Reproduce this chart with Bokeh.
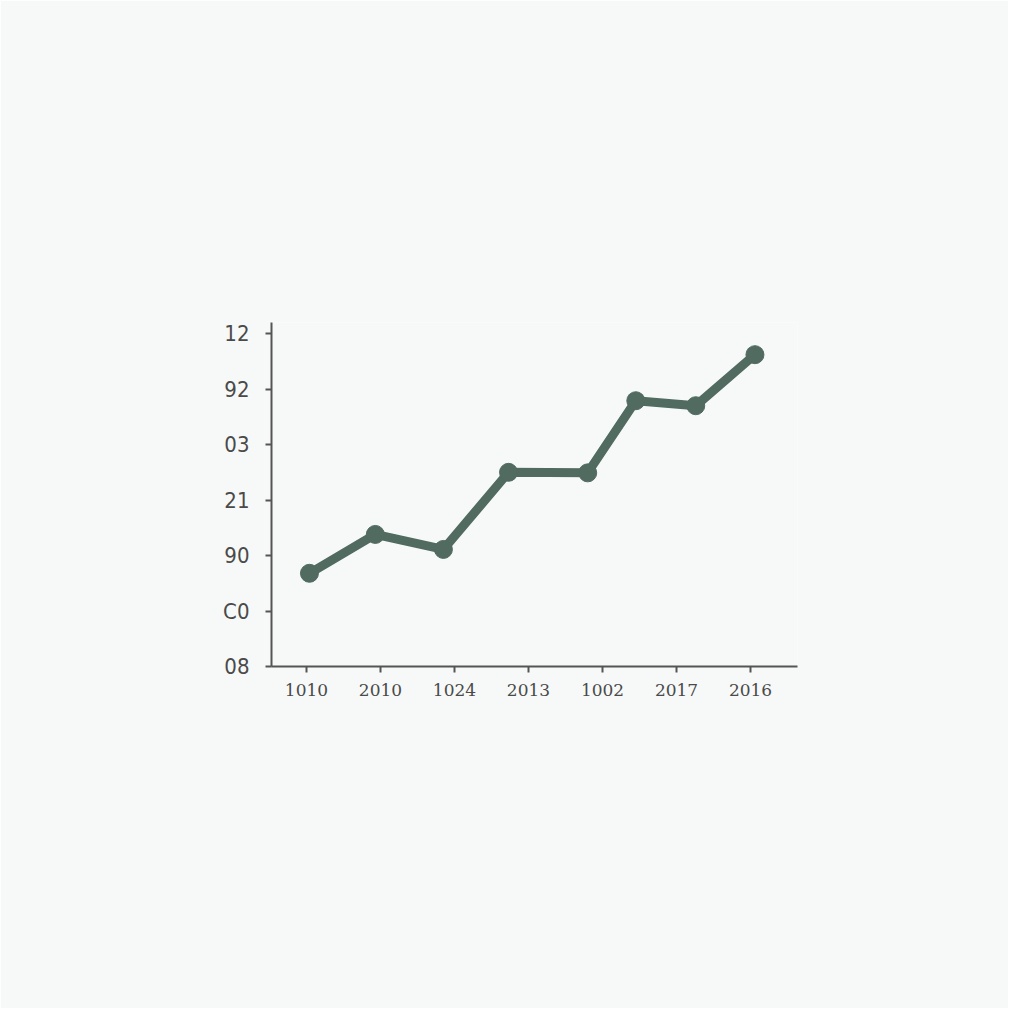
from bokeh.plotting import figure
from bokeh.embed import file_html
from bokeh.resources import INLINE
from bokeh.models import Range1d, FixedTicker

# Data
x_tick_labels = ["1010", "2010", "1024", "2013", "1002", "2017", "2016"]
y_tick_labels = ["08", "C0", "90", "21", "03", "92", "12"]
x_values = [0.04, 0.93, 1.85, 2.73, 3.80, 4.45, 5.26, 6.06]
y_values = [1.68, 2.38, 2.11, 3.50, 3.49, 4.79, 4.70, 5.62]

BG = "#f7f9f9"
LINE = "#516b60"
AXIS = "#555555"

p = figure(
    output_backend="svg", toolbar_location=None,
    frame_width=526, frame_height=344,
    min_border_left=271, min_border_top=322, min_border_right=211, min_border_bottom=342,
    x_range=Range1d(-0.473, 6.635), y_range=Range1d(0, 6.2),
    background_fill_color=BG, border_fill_color=BG,
)
p.outline_line_color = None
p.grid.visible = False

p.line(x_values, y_values, line_color=LINE, line_width=9, line_join="round")
p.scatter(x_values, y_values, size=18, fill_color=LINE, line_color=LINE)

p.xaxis.ticker = FixedTicker(ticks=list(range(len(x_tick_labels))))
p.xaxis.major_label_overrides = {i: t for i, t in enumerate(x_tick_labels)}
p.yaxis.ticker = FixedTicker(ticks=list(range(len(y_tick_labels))))
p.yaxis.major_label_overrides = {i: t for i, t in enumerate(y_tick_labels)}

for ax in (p.xaxis, p.yaxis):
    ax.axis_line_color = AXIS
    ax.axis_line_width = 2
    ax.major_tick_line_color = AXIS
    ax.major_tick_line_width = 2
    ax.major_tick_in = 0
    ax.major_tick_out = 6
    ax.minor_tick_line_color = None
    ax.major_label_text_color = "#4a4a4a"

p.xaxis.major_label_text_font = "DejaVu Serif"
p.xaxis.major_label_text_font_size = "17px"
p.xaxis.major_label_standoff = 11
p.yaxis.major_label_text_font = "DejaVu Sans Condensed"
p.yaxis.major_label_text_font_size = "22px"
p.yaxis.major_label_standoff = 16

html = file_html(p, INLINE)
html = html.replace("<body>", '<body style="background:%s">' % BG, 1)
open("out.html", "w").write(html)
